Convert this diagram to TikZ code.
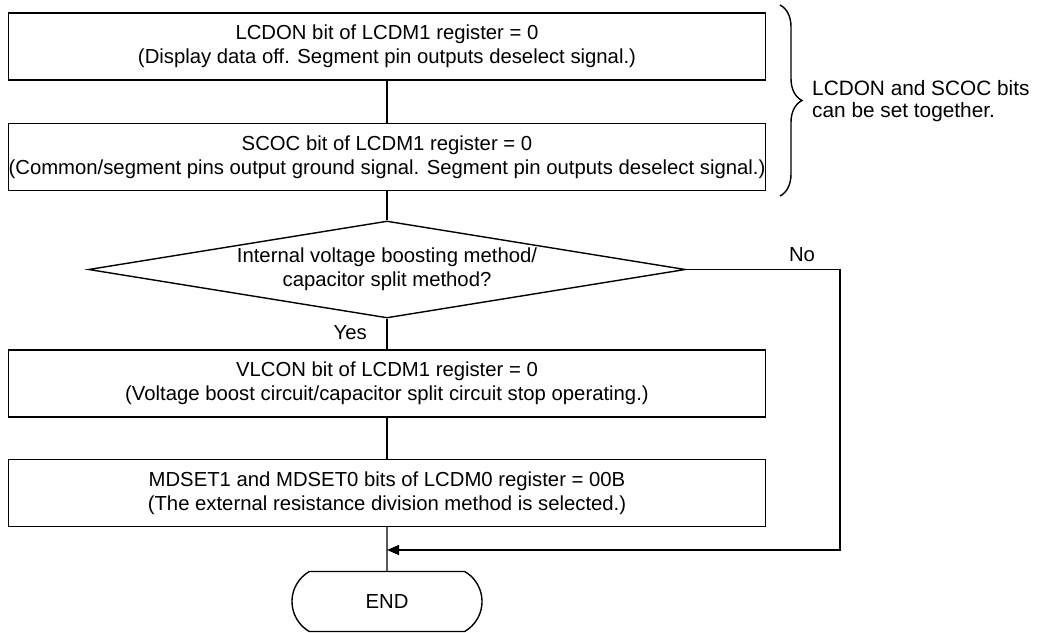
\documentclass[tikz,border=0pt]{standalone}
\usepackage{fontspec}
\setmainfont{Liberation Sans}
\usetikzlibrary{shapes.geometric,shapes.misc,arrows.meta,decorations.pathreplacing}
\begin{document}
\begin{tikzpicture}[x=1pt,y=-1pt,
  every node/.style={font=\fontsize{20.3}{24}\selectfont},
  line/.style={line width=1.4pt},
  procbox/.style={draw,line width=1.4pt,rectangle,minimum width=757pt,minimum height=67pt,inner sep=0pt,align=center},
  decbox/.style={draw,line width=1.4pt,diamond,inner sep=0pt,minimum width=597pt,minimum height=97pt},
  termbox/.style={draw,line width=1.4pt,rounded rectangle,rounded rectangle arc length=120,minimum width=190pt,minimum height=60pt,inner sep=0pt},
  lbl/.style={inner sep=0pt}
]
\fill[white] (0,0) rectangle (1039,632);
\useasboundingbox (0,0) rectangle (1039,632);

\node[procbox] (b1) at (387,46.5) {LCDON bit of LCDM1 register = 0\\(Display data off. Segment pin outputs deselect signal.)};
\node[procbox] (b2) at (387,157) {SCOC bit of LCDM1 register = 0\\(Common/segment pins output ground signal. Segment pin outputs deselect signal.)};
\node[decbox,label={[align=center,font=\fontsize{20.3}{24}\selectfont]center:Internal voltage boosting method/\\capacitor split method?}] (dec) at (387,269.5) {};
\node[procbox] (b3) at (387,383.5) {VLCON bit of LCDM1 register = 0\\(Voltage boost circuit/capacitor split circuit stop operating.)};
\node[procbox] (b4) at (387,493) {MDSET1 and MDSET0 bits of LCDM0 register = 00B\\(The external resistance division method is selected.)};
\node[termbox] (endn) at (387,601.5) {END};

\node[lbl,anchor=east] (yes) at (367,333) {Yes};
\node[lbl] (no) at (802,255) {No};

\coordinate (br1) at (780,5);
\coordinate (br2) at (780,196);
\draw[line width=1.4pt,decorate,decoration={brace,amplitude=22pt}] (br1) -- (br2);
\node[lbl,anchor=west,align=left,font=\fontsize{20.8}{22}\selectfont] (note) at (812,101) {LCDON and SCOC bits\\can be set together.};

\draw[line] (b1) -- (b2);
\draw[line] (b2) -- (dec);
\draw[line] (dec) -- (b3);
\draw[line] (b3) -- (b4);
\draw[line] (b4) -- (endn);

\coordinate (nc) at (840,550);
\coordinate (join) at (387,550);
\draw[line,-{Triangle[length=12pt,width=10pt]}] (dec.east) -| (nc) -- (join);
\end{tikzpicture}
\end{document}
